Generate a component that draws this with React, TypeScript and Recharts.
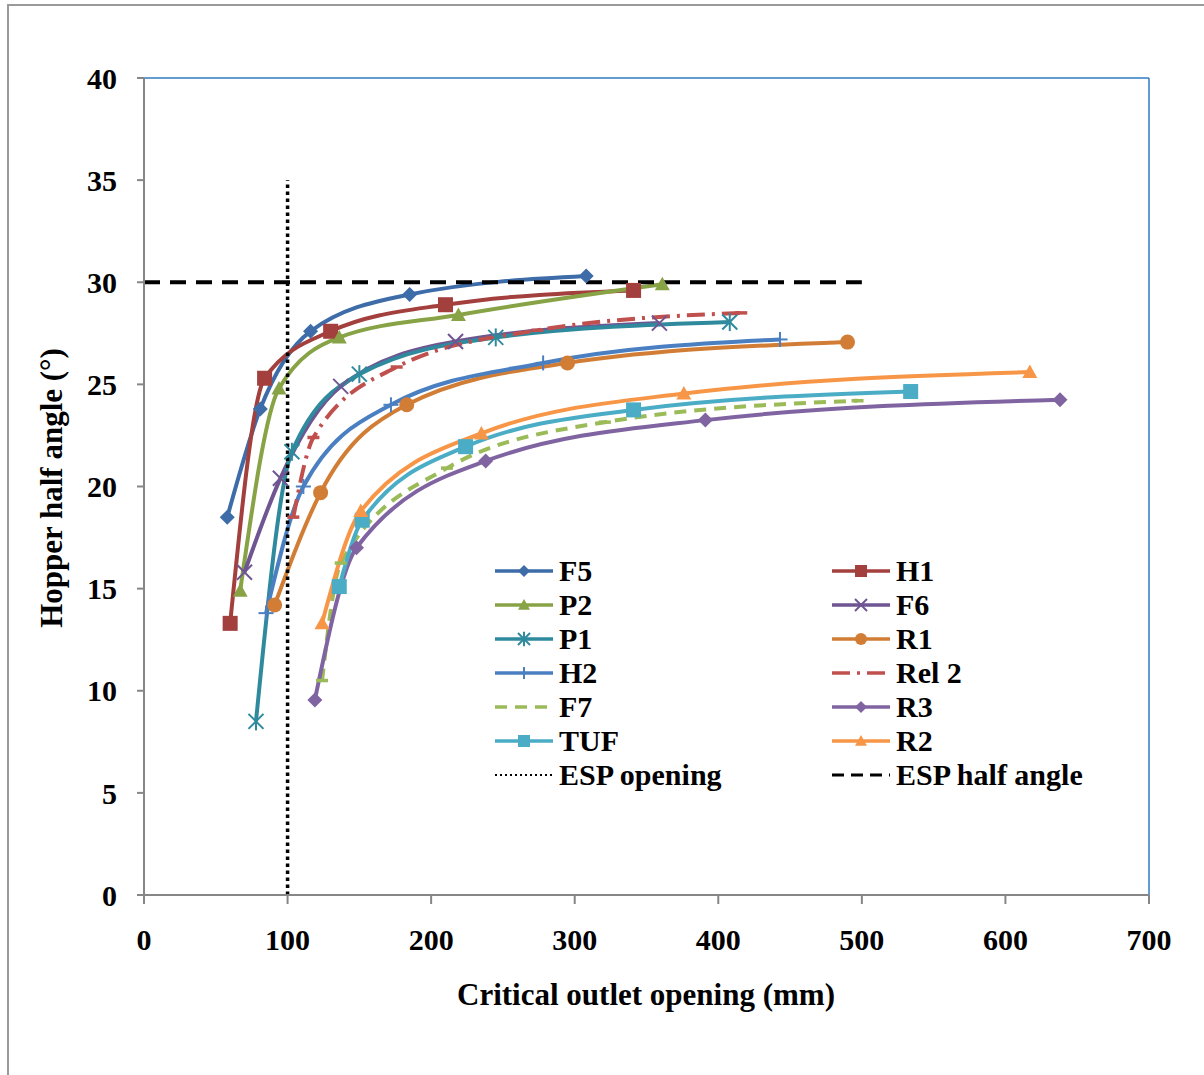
import React from 'react';
import { LineChart, Line, XAxis, YAxis, Legend, ReferenceLine } from 'recharts';

// critical outlet opening (mm) / hopper half angle (deg)
const f5X = [58, 81, 116, 185, 308];
const f5Y = [18.5, 23.8, 27.6, 29.4, 30.3];
const h1X = [60, 84, 130, 210, 341];
const h1Y = [13.3, 25.3, 27.6, 28.9, 29.6];
const p2X = [67, 94, 136, 219, 361];
const p2Y = [14.9, 24.8, 27.3, 28.4, 29.9];
const f6X = [70, 95, 137, 217, 359];
const f6Y = [15.8, 20.4, 24.9, 27.1, 28.0];
const p1X = [78, 103, 150, 245, 408];
const p1Y = [8.5, 21.7, 25.5, 27.3, 28.05];
const r1X = [91, 123, 183, 295, 490];
const r1Y = [14.2, 19.7, 24.0, 26.05, 27.07];
const h2X = [85, 111, 172, 278, 443];
const h2Y = [13.8, 20.0, 24.0, 26.05, 27.2];
const rel2X = [104, 118, 176, 274, 416];
const rel2Y = [18.5, 22.4, 25.85, 27.65, 28.5];
const f7X = [124, 137, 211, 321, 497];
const f7Y = [10.5, 16.25, 20.9, 23.15, 24.2];
const r3X = [119, 148, 238, 391, 638];
const r3Y = [9.55, 17.0, 21.25, 23.25, 24.25];
const tufX = [136, 152, 224, 341, 534];
const tufY = [15.1, 18.35, 21.95, 23.75, 24.65];
const r2X = [124, 151, 235, 376, 617];
const r2Y = [13.3, 18.8, 22.6, 24.55, 25.6];
const espOpeningX = [100, 100];
const espOpeningY = [0, 35];
const espHalfX = [0, 500];
const espHalfY = [30, 30];

const xTicks = [0, 100, 200, 300, 400, 500, 600, 700];
const yTicks = [0, 5, 10, 15, 20, 25, 30, 35, 40];

const toPoints = (xs: number[], ys: number[]) => xs.map((x, i) => ({ x, y: ys[i] }));

type Kind = 'diamond' | 'square' | 'triangle' | 'x' | 'star' | 'circle' | 'plus' | 'dash' | 'none';

interface SeriesDef {
  name: string;
  data: { x: number; y: number }[];
  color: string;
  marker: Kind;
  dash?: string;
  width: number;
  smooth: boolean;
}

const series: SeriesDef[] = [
  { name: 'F5', data: toPoints(f5X, f5Y), color: '#3D6CA8', marker: 'diamond', width: 4, smooth: true },
  { name: 'H1', data: toPoints(h1X, h1Y), color: '#A33F3C', marker: 'square', width: 4, smooth: true },
  { name: 'P2', data: toPoints(p2X, p2Y), color: '#87A346', marker: 'triangle', width: 4, smooth: true },
  { name: 'F6', data: toPoints(f6X, f6Y), color: '#6F5592', marker: 'x', width: 4, smooth: true },
  { name: 'P1', data: toPoints(p1X, p1Y), color: '#2F8A9E', marker: 'star', width: 4, smooth: true },
  { name: 'R1', data: toPoints(r1X, r1Y), color: '#D17D35', marker: 'circle', width: 4, smooth: true },
  { name: 'H2', data: toPoints(h2X, h2Y), color: '#4A7FC1', marker: 'plus', width: 4, smooth: true },
  { name: 'Rel 2', data: toPoints(rel2X, rel2Y), color: '#C0504D', marker: 'dash', dash: '18 7 3 7', width: 4, smooth: true },
  { name: 'F7', data: toPoints(f7X, f7Y), color: '#9BBB59', marker: 'dash', dash: '12 8', width: 4, smooth: true },
  { name: 'R3', data: toPoints(r3X, r3Y), color: '#8064A2', marker: 'diamond', width: 4, smooth: true },
  { name: 'TUF', data: toPoints(tufX, tufY), color: '#4BACC6', marker: 'square', width: 4, smooth: true },
  { name: 'R2', data: toPoints(r2X, r2Y), color: '#F79646', marker: 'triangle', width: 4, smooth: true },
  { name: 'ESP opening', data: toPoints(espOpeningX, espOpeningY), color: '#000000', marker: 'none', dash: '3.5 3.5', width: 3.5, smooth: false },
  { name: 'ESP half angle', data: toPoints(espHalfX, espHalfY), color: '#000000', marker: 'none', dash: '16 10', width: 4, smooth: false },
];

const font = "'Liberation Serif', 'Times New Roman', serif";
const axisGrey = '#868686';

function Marker({ kind, cx, cy, color, r }: { kind: Kind; cx: number; cy: number; color: string; r: number }) {
  switch (kind) {
    case 'diamond':
      return <polygon points={`${cx},${cy - r} ${cx + r},${cy} ${cx},${cy + r} ${cx - r},${cy}`} fill={color} />;
    case 'square':
      return <rect x={cx - r} y={cy - r} width={2 * r} height={2 * r} fill={color} />;
    case 'triangle':
      return <polygon points={`${cx},${cy - r} ${cx + r},${cy + r * 0.8} ${cx - r},${cy + r * 0.8}`} fill={color} />;
    case 'circle':
      return <circle cx={cx} cy={cy} r={r} fill={color} />;
    case 'x':
      return (
        <g stroke={color} strokeWidth={2}>
          <line x1={cx - r} y1={cy - r} x2={cx + r} y2={cy + r} />
          <line x1={cx - r} y1={cy + r} x2={cx + r} y2={cy - r} />
        </g>
      );
    case 'star':
      return (
        <g stroke={color} strokeWidth={2}>
          <line x1={cx - r} y1={cy - r} x2={cx + r} y2={cy + r} />
          <line x1={cx - r} y1={cy + r} x2={cx + r} y2={cy - r} />
          <line x1={cx} y1={cy - r * 1.2} x2={cx} y2={cy + r * 1.2} />
        </g>
      );
    case 'plus':
      return (
        <g stroke={color} strokeWidth={2}>
          <line x1={cx - r} y1={cy} x2={cx + r} y2={cy} />
          <line x1={cx} y1={cy - r} x2={cx} y2={cy + r} />
        </g>
      );
    case 'dash':
      return <line x1={cx - r} y1={cy} x2={cx + r} y2={cy} stroke={color} strokeWidth={3.5} />;
    default:
      return null;
  }
}

const renderLegend = () => (
  <svg width={620} height={245}>
    {series.map((s, i) => {
      const x0 = i % 2 === 0 ? 5 : 342;
      const cy = 18 + Math.floor(i / 2) * 34;
      return (
        <g key={s.name}>
          <line x1={x0} x2={x0 + 58} y1={cy} y2={cy} stroke={s.color} strokeWidth={s.marker === 'none' ? (s.width > 3.5 ? 3 : 2) : 3.5} strokeDasharray={s.marker === 'none' ? (s.width > 3.5 ? '12 7' : '2 3') : s.dash} />
          {s.marker !== 'dash' && <Marker kind={s.marker} cx={x0 + 29} cy={cy} color={s.color} r={6} />}
          <text x={x0 + 64} y={cy + 10} fontFamily={font} fontWeight="bold" fontSize={30}>
            {s.name}
          </text>
        </g>
      );
    })}
  </svg>
);

const App: React.FC = () => {
  return (
    <div style={{ position: 'absolute', left: 0, top: 0, width: 1204, height: 1075, background: '#fff', overflow: 'hidden' }}>
      <div style={{ position: 'absolute', left: 7, top: 4, width: 1250, height: 1150, borderLeft: '2px solid #9a9a9a', borderTop: '2px solid #9a9a9a' }} />
      <LineChart width={1204} height={1075} margin={{ top: 78, right: 55, bottom: 120, left: 64 }}>
        <XAxis
          type="number"
          dataKey="x"
          domain={[0, 700]}
          ticks={xTicks}
          height={60}
          tickSize={9}
          tickMargin={25}
          axisLine={{ stroke: axisGrey, strokeWidth: 2 }}
          tickLine={{ stroke: axisGrey, strokeWidth: 2 }}
          tick={{ fill: '#000', fontSize: 30, fontWeight: 'bold', fontFamily: font }}
        />
        <YAxis
          type="number"
          dataKey="y"
          domain={[0, 40]}
          ticks={yTicks}
          width={80}
          tickSize={7}
          tickMargin={20}
          axisLine={{ stroke: axisGrey, strokeWidth: 2 }}
          tickLine={{ stroke: axisGrey, strokeWidth: 2 }}
          tick={{ fill: '#000', fontSize: 30, fontWeight: 'bold', fontFamily: font }}
        />
        <ReferenceLine y={40} stroke="#2F7BC4" strokeWidth={1.5} />
        <ReferenceLine x={700} stroke="#2F7BC4" strokeWidth={1.5} />
        {series.map((s) => (
          <Line
            key={s.name}
            data={s.data}
            dataKey="y"
            name={s.name}
            type={s.smooth ? 'monotone' : 'linear'}
            stroke={s.color}
            strokeWidth={s.width}
            strokeDasharray={s.dash}
            dot={
              s.marker === 'none'
                ? false
                : (p: any) => (
                    <Marker key={`${s.name}-${p.index}`} kind={s.marker} cx={p.cx} cy={p.cy} color={s.color} r={s.marker === 'dash' ? 6 : 7.5} />
                  )
            }
            activeDot={false}
            isAnimationActive={false}
          />
        ))}
        <Legend
          layout="horizontal"
          verticalAlign="middle"
          align="center"
          content={renderLegend}
          wrapperStyle={{ left: 490, top: 553, width: 620, height: 245 }}
        />
      </LineChart>
      <svg width={1204} height={1075} style={{ position: 'absolute', left: 0, top: 0, pointerEvents: 'none' }}>
        <text x={646} y={1005} textAnchor="middle" fontFamily={font} fontWeight="bold" fontSize={31}>
          Critical outlet opening (mm)
        </text>
        <text x={62} y={488} transform="rotate(-90 62 488)" textAnchor="middle" fontFamily={font} fontWeight="bold" fontSize={31}>
          Hopper half angle (°)
        </text>
      </svg>
    </div>
  );
};

export default App;
